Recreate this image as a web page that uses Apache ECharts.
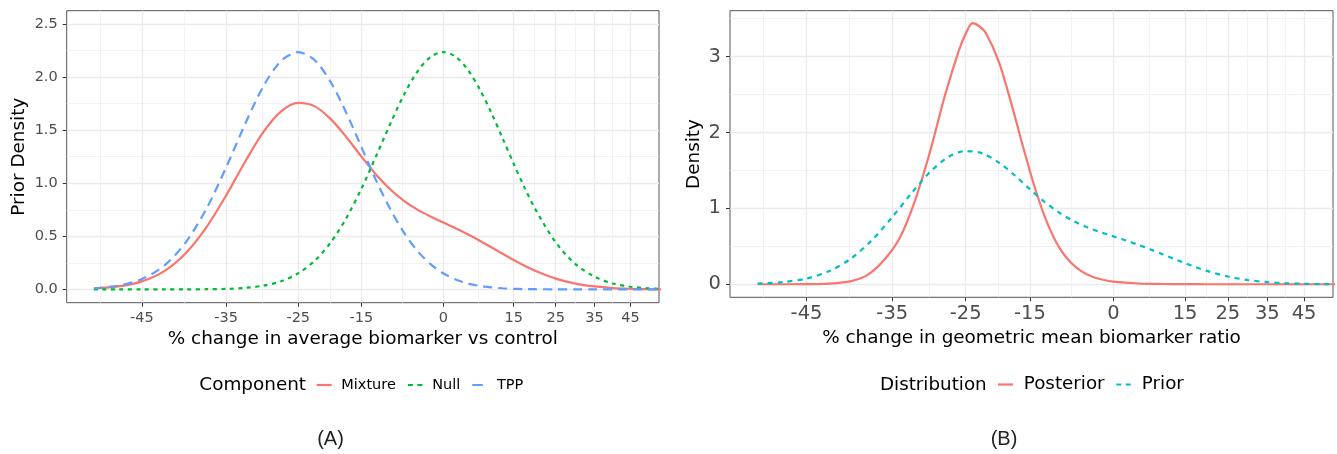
<!DOCTYPE html>
<html>
<head>
<meta charset="utf-8">
<title>Prior and posterior densities</title>
<script src="https://cdn.jsdelivr.net/npm/echarts@6/dist/echarts.min.js"></script>
<style>
  html, body { margin: 0; padding: 0; background: #fff; }
  #chart { width: 1337px; height: 454px; }
</style>
</head>
<body>
<div id="chart"></div>
<script>
// % change grid for panel A (and the prior in panel B)
var pctA = [-50, -47.5, -45, -42.5, -40, -37.5, -35, -32.5, -30, -27.5, -25, -22.5, -20, -17.5,
  -15, -12.5, -10, -7.5, -5, -2.5, 0, 2.5, 5, 7.5, 10, 12.5, 15, 17.5, 20, 25, 30, 35, 40, 45, 50, 55];
var mixture = [0.008, 0.028, 0.076, 0.173, 0.341, 0.584, 0.885, 1.203, 1.483, 1.676, 1.756, 1.724, 1.604, 1.436,
  1.252, 1.082, 0.943, 0.834, 0.752, 0.687, 0.631, 0.576, 0.519, 0.459, 0.397, 0.336, 0.277, 0.223, 0.176, 0.102,
  0.055, 0.028, 0.013, 0.006, 0.002, 0.001];
var nullComp = [0, 0, 0, 0, 0.001, 0.002, 0.005, 0.015, 0.036, 0.077, 0.152, 0.270, 0.443, 0.671,
  0.947, 1.252, 1.557, 1.834, 2.052, 2.189, 2.235, 2.191, 2.068, 1.886, 1.664, 1.423, 1.184, 0.959, 0.759, 0.443,
  0.238, 0.120, 0.056, 0.025, 0.011, 0.004];
var tpp = [0.011, 0.036, 0.098, 0.225, 0.443, 0.758, 1.148, 1.558, 1.915, 2.153, 2.235, 2.158, 1.951, 1.664,
  1.343, 1.031, 0.759, 0.535, 0.363, 0.238, 0.152, 0.094, 0.056, 0.033, 0.019, 0.011, 0.006, 0.003, 0.002, 0.001,
  0, 0, 0, 0, 0, 0];

// posterior, panel B
var pctPost = [-50, -45, -42.5, -40, -38, -36, -34, -32, -30, -28, -26, -25, -24, -23, -22, -20, -18, -16,
  -14, -12, -10, -8, -6, -4, -2, 0, 5, 10, 15, 20, 30, 40, 55];
var posterior = [0, 0.001, 0.008, 0.041, 0.127, 0.322, 0.62, 1.12, 1.76, 2.48, 3.08, 3.30, 3.44, 3.40,
  3.31, 2.932, 2.374, 1.772, 1.226, 0.793, 0.482, 0.29, 0.17, 0.10, 0.06, 0.035, 0.01, 0.003, 0.001, 0, 0, 0, 0];

var xTickPct = [-45, -35, -25, -15, 0, 15, 25, 35, 45];
var yTicksA = [0, 0.5, 1, 1.5, 2, 2.5];
var yTicksB = [0, 1, 2, 3];

var toLog = function (p) { return Math.log(1 + p / 100); };
var xTicks = xTickPct.map(toLog);
var xMin = -0.747, xMax = 0.428;
var yRangeA = [-0.125, 2.625];
var yRangeB = [-0.172, 3.605];

// ggplot style minor breaks: midpoints, extended by the first step
function minorBreaks(b, lo, hi) {
  var bd = b[1] - b[0];
  var ext = [b[0] - bd].concat(b, [b[b.length - 1] + bd]);
  var out = [];
  for (var i = 0; i < ext.length - 1; i++) out.push((ext[i] + ext[i + 1]) / 2);
  return out.filter(function (v) { return v > lo && v < hi; });
}

function pairs(xs, ys) {
  return xs.map(function (p, i) { return [toLog(p), ys[i]]; });
}

var FONT = 'DejaVu Sans';
var gridMajor = { color: '#EBEBEB', width: 1.3 };
var gridMinor = { color: '#EFEFEF', width: 0.8 };

function mainX(gridIndex, name, fontSize, nameGap, margin) {
  return {
    type: 'value', gridIndex: gridIndex, min: xMin, max: xMax, position: 'bottom',
    axisLine: { show: false, onZero: false },
    axisTick: { show: true, customValues: xTicks, length: 4, lineStyle: { color: '#333', width: 1 } },
    axisLabel: {
      customValues: xTicks, margin: margin, fontSize: fontSize, color: '#4D4D4D', fontFamily: FONT,
      formatter: function (v) { return String(Math.round((Math.exp(v) - 1) * 100)); }
    },
    splitLine: { show: true, lineStyle: gridMajor },
    name: name, nameLocation: 'middle', nameGap: nameGap,
    nameTextStyle: { fontSize: 18.4, color: '#000', fontFamily: FONT }
  };
}
function minorX(gridIndex) {
  var m = minorBreaks(xTicks, xMin, xMax);
  return {
    type: 'value', gridIndex: gridIndex, min: xMin, max: xMax, position: 'top',
    axisLine: { show: false, onZero: false },
    axisTick: { show: false, customValues: m },
    axisLabel: { show: false, customValues: m },
    splitLine: { show: true, lineStyle: gridMinor }
  };
}
function mainY(gridIndex, range, ticks, name, fontSize, nameGap, fmt) {
  return {
    type: 'value', gridIndex: gridIndex, min: range[0], max: range[1], position: 'left',
    axisLine: { show: false, onZero: false },
    axisTick: { show: true, customValues: ticks, length: 4, lineStyle: { color: '#333', width: 1 } },
    axisLabel: { customValues: ticks, margin: 9, fontSize: fontSize, color: '#4D4D4D', fontFamily: FONT, formatter: fmt },
    splitLine: { show: true, lineStyle: gridMajor },
    name: name, nameLocation: 'middle', nameGap: nameGap,
    nameTextStyle: { fontSize: 18.4, color: '#000', fontFamily: FONT }
  };
}
function minorY(gridIndex, range, ticks) {
  var m = minorBreaks(ticks, range[0], range[1]);
  return {
    type: 'value', gridIndex: gridIndex, min: range[0], max: range[1], position: 'right',
    axisLine: { show: false, onZero: false },
    axisTick: { show: false, customValues: m },
    axisLabel: { show: false, customValues: m },
    splitLine: { show: true, lineStyle: gridMinor }
  };
}

function lineSeries(name, xi, data, color, dash) {
  return {
    name: name, type: 'line', xAxisIndex: xi, yAxisIndex: xi, data: data,
    symbol: 'none', showSymbol: false, smooth: 0.3, clip: true,
    lineStyle: { color: color, width: 2.2, type: dash || 'solid' },
    itemStyle: { color: color }
  };
}

// legend keys drawn as small bars / dashes
var keySolid = 'path://M0,0H15V2.2H0Z';
var keyDotted = 'path://M0,0H5V2.2H0ZM9.5,0H14.5V2.2H9.5Z';
var keyDashed = 'path://M0,0H10.5V2.2H0ZM14.8,1H15V1.2H14.8Z';

var option = {
  animation: false,
  backgroundColor: '#fff',
  grid: [
    { left: 66.7, top: 10.7, width: 592.3, height: 292, show: true, borderColor: '#555', borderWidth: 1, backgroundColor: '#fff' },
    { left: 730, top: 10.7, width: 603, height: 286.6, show: true, borderColor: '#555', borderWidth: 1, backgroundColor: '#fff' }
  ],
  xAxis: [
    mainX(0, '% change in average biomarker vs control', 14.5, 24, 8),
    minorX(0),
    mainX(1, '% change in geometric mean biomarker ratio', 19.5, 30, 7),
    minorX(1)
  ],
  yAxis: [
    mainY(0, yRangeA, yTicksA, 'Prior Density', 14.5, 38, function (v) { return v.toFixed(1); }),
    minorY(0, yRangeA, yTicksA),
    mainY(1, yRangeB, yTicksB, 'Density', 19.5, 27, function (v) { return String(v); }),
    minorY(1, yRangeB, yTicksB)
  ],
  legend: [
    {
      data: [
        { name: 'Mixture', icon: keySolid },
        { name: 'Null', icon: keyDotted },
        { name: 'TPP', icon: keyDashed }
      ],
      left: 316.7, top: 377.5, padding: 0, orient: 'horizontal',
      itemWidth: 15, itemHeight: 2.2, itemGap: 12, selectedMode: false,
      formatter: ' {name}',
      textStyle: { fontSize: 14.5, color: '#000', fontFamily: FONT }
    },
    {
      data: [
        { name: 'Posterior', icon: keySolid },
        { name: 'Prior', icon: keyDotted }
      ],
      left: 998, top: 375.5, padding: 0, orient: 'horizontal',
      itemWidth: 15, itemHeight: 2.2, itemGap: 11.7, selectedMode: false,
      formatter: ' {name}',
      textStyle: { fontSize: 18.3, color: '#000', fontFamily: FONT }
    }
  ],
  graphic: [
    { type: 'text', x: 199.3, y: 385, style: { text: 'Component', font: '18.4px "DejaVu Sans"', fill: '#000', textVerticalAlign: 'middle' } },
    { type: 'text', x: 880, y: 385, style: { text: 'Distribution', font: '18.3px "DejaVu Sans"', fill: '#000', textVerticalAlign: 'middle' } },
    { type: 'text', x: 330.5, y: 439, style: { text: '(A)', font: '20px "Liberation Sans"', fill: '#222', textAlign: 'center', textVerticalAlign: 'middle' } },
    { type: 'text', x: 1004, y: 439, style: { text: '(B)', font: '20px "Liberation Sans"', fill: '#222', textAlign: 'center', textVerticalAlign: 'middle' } }
  ],
  series: [
    lineSeries('Mixture', 0, pairs(pctA, mixture), '#F8766D'),
    lineSeries('Null', 0, pairs(pctA, nullComp), '#00BA38', [4, 4.5]),
    lineSeries('TPP', 0, pairs(pctA, tpp), '#619CFF', [9, 6]),
    lineSeries('Posterior', 2, pairs(pctPost, posterior), '#F8766D'),
    lineSeries('Prior', 2, pairs(pctA, mixture), '#00BFC4', [5, 5])
  ]
};

var myChart = echarts.init(document.getElementById('chart'), null, { renderer: 'canvas' });
myChart.setOption(option);
</script>
</body>
</html>
